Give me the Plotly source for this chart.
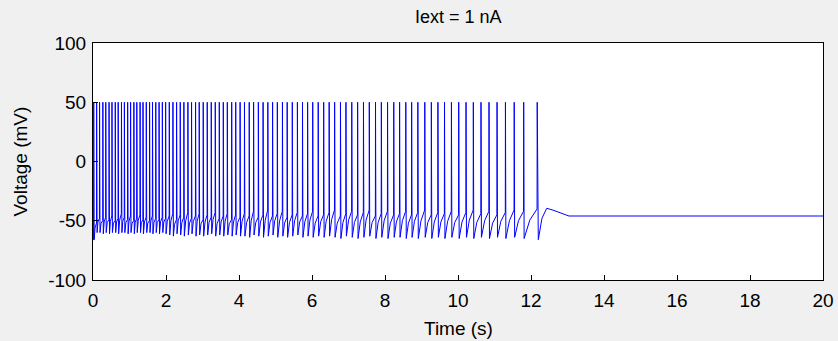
import plotly.graph_objects as go

# Spike times (s)
spike_times = [
    0.02, 0.10, 0.18, 0.27, 0.35, 0.44, 0.52, 0.61, 0.69, 0.78, 0.86, 0.95,
    1.03, 1.12, 1.20, 1.29, 1.37, 1.46, 1.55, 1.63, 1.72, 1.81, 1.90, 1.99,
    2.09, 2.19, 2.29, 2.39, 2.49, 2.60, 2.70, 2.81, 2.91, 3.02, 3.13, 3.24,
    3.35, 3.46, 3.57, 3.68, 3.80, 3.91, 4.03,
    4.15, 4.28, 4.40, 4.53, 4.66, 4.79, 4.92, 5.05, 5.19, 5.32, 5.46, 5.60,
    5.74, 5.88, 6.02, 6.17,
    6.32, 6.47, 6.62, 6.78, 6.93, 7.09, 7.25, 7.41, 7.57, 7.74, 7.90, 8.07, 8.24,
    8.40, 8.57, 8.73, 8.90, 9.09, 9.27, 9.45, 9.63, 9.82, 10.02, 10.22, 10.42,
    10.63, 10.85, 11.07, 11.30, 11.54, 11.80, 12.17,
]
# Spike peak (mV)
peak_mV = 50
# After-spike trough (mV), one per spike
trough_mV = [
    -66, -60, -60, -61, -60, -61, -60, -60, -61, -60, -60, -61,
    -60, -61, -60, -60, -61, -60, -60, -61, -60, -61, -60, -61,
    -62, -63, -61, -62, -63, -62, -61, -63, -62, -63, -62, -61,
    -63, -62, -63, -62, -63, -62, -63,
    -63, -64, -62, -63, -64, -63, -62, -64, -63, -64, -63, -62,
    -64, -63, -64, -63,
    -64, -63, -64, -65, -63, -64, -65, -64, -63, -65, -64, -65, -64,
    -64, -65, -64, -65, -64, -65, -64, -65, -64, -65, -64, -65,
    -64, -65, -64, -65, -64, -65, -66,
]
# Membrane voltage just before each spike (mV)
prespike_mV = [
    -66, -52, -48, -50, -47, -49, -46, -50, -48, -44, -47, -49,
    -46, -50, -48, -45, -49, -47, -50, -46, -48, -49, -47, -48,
    -46, -44, -49, -45, -47, -43, -48, -46, -44, -49, -45, -47,
    -43, -48, -46, -44, -49, -45, -47,
    -44, -46, -42, -47, -45, -41, -46, -44, -42, -47, -45, -43,
    -46, -44, -42, -46,
    -45, -43, -41, -46, -44, -42, -45, -43, -41, -46, -44, -42, -45,
    -44, -42, -45, -43, -41, -45, -43, -44, -42, -45, -43, -41,
    -44, -42, -45, -43, -41, -42, -40,
]
# Post-train relaxation (s, mV)
tail_t = [12.20, 12.30, 12.43, 12.60, 12.80, 13.04, 20.0]
tail_v = [-66, -48, -39.5, -41, -43, -46, -46]

x_ticks = list(range(0, 21, 2))
y_ticks = [-100, -50, 0, 50, 100]
y_ticklabels = ["-100", "-50", "0", "50", "100"]

# Build the trace from the read values
t, v = [0.0], [trough_mV[0]]
for i, ts in enumerate(spike_times):
    t += [ts - 0.004, ts, ts + 0.012]
    v += [prespike_mV[i], peak_mV, trough_mV[i]]
    if i + 1 < len(spike_times):
        nxt = spike_times[i + 1]
        mid = ts + 0.45 * (nxt - ts)
        t.append(mid)
        v.append((trough_mV[i] + prespike_mV[i + 1]) / 2 + 3)
t += tail_t
v += tail_v

fig = go.Figure(go.Scatter(x=t, y=v, mode="lines",
                           line=dict(color="#0000ff", width=1),
                           hoverinfo="skip"))

axis_common = dict(showline=True, linecolor="black", linewidth=1, mirror=True,
                   ticks="inside", ticklen=5, tickcolor="black", showgrid=False,
                   zeroline=False, automargin=False,
                   tickfont=dict(size=19, color="black"))
fig.update_layout(
    width=838, height=341,
    margin=dict(l=93, r=15, t=43, b=61),
    paper_bgcolor="#f0f0f0", plot_bgcolor="white",
    font=dict(family="Liberation Sans, Arial", color="black"),
    showlegend=False,
    xaxis=dict(range=[0, 20], tickvals=x_ticks, ticklabelstandoff=3, **axis_common),
    yaxis=dict(range=[-100, 100], tickvals=y_ticks, ticktext=y_ticklabels,
               ticklabelstandoff=2, **axis_common),
    annotations=[
        dict(text="Iext = 1 nA", xref="paper", yref="paper", x=0.5, y=1,
             yshift=26, xanchor="center", yanchor="middle", showarrow=False,
             font=dict(size=18)),
        dict(text="Time (s)", xref="paper", yref="paper", x=0.5, y=0,
             yshift=-48, xanchor="center", yanchor="middle", showarrow=False,
             font=dict(size=19)),
        dict(text="Voltage (mV)", xref="paper", yref="paper", x=0, y=0.5,
             xshift=-73, xanchor="center", yanchor="middle", showarrow=False,
             textangle=-90, font=dict(size=19)),
    ],
)
fig.write_html("out.html")
